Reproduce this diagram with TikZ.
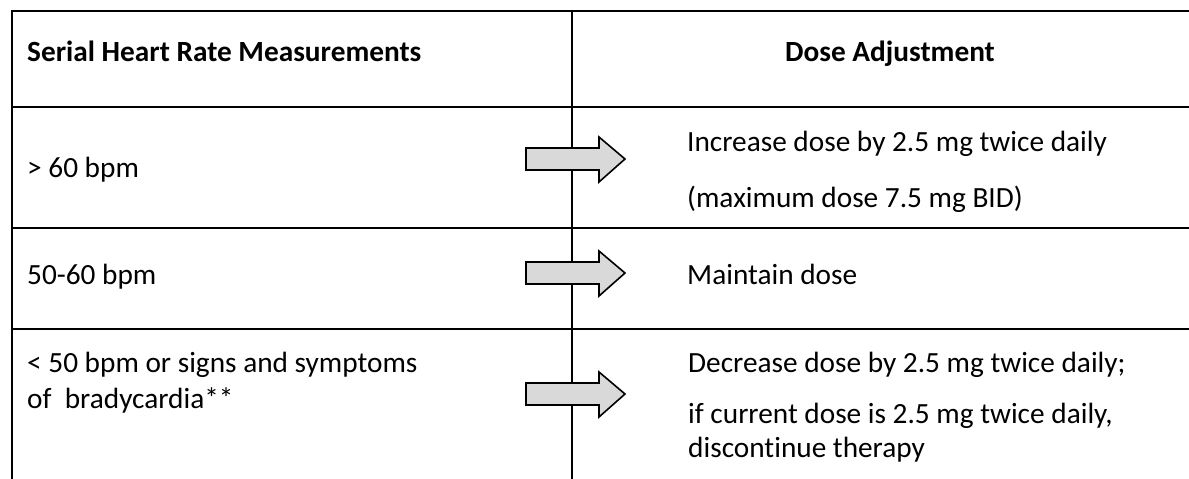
\documentclass[tikz,border=0pt]{standalone}
\usepackage{fontspec}
\setmainfont{Carlito}[Ligatures={NoCommon}]
\definecolor{arrowgray}{HTML}{D9D9D9}
\tikzset{
  grid/.style={line width=2.2pt, line cap=rect},
  txt/.style={anchor=base west, inner sep=0pt, font=\fontsize{29.3}{35}\selectfont},
  head/.style={txt, font=\fontsize{29.3}{35}\selectfont\bfseries},
  blockarrow/.pic={\draw[fill=arrowgray, line width=1.6pt, line join=miter]
     (0,-11) -- (73,-11) -- (73,-22) -- (99,0) -- (73,23) -- (73,11) -- (0,11) -- cycle;}
}
\begin{document}
\begin{tikzpicture}[x=1pt,y=-1pt]
\useasboundingbox (0,0) rectangle (1189,479);
% grid
\coordinate (tl) at (12,11);
\coordinate (tr) at (1192,11);
\coordinate (bl) at (12,482);
\coordinate (mt) at (572,11);
\coordinate (mb) at (572,482);
\draw[grid] (bl) -- (tl) -- (tr);
\draw[grid] (mt) -- (mb);
\draw[grid] (12,107) -- (1192,107);
\draw[grid] (12,228) -- (1192,228);
\draw[grid] (12,329) -- (1192,329);
% header
\node[head] (h1) at (27,61) {Serial Heart Rate Measurements};
\node[head] (h2) at (785,61) {Dose Adjustment};
% row 1
\node[txt] (l1) at (27,177) {> 60 bpm};
\node[txt] (r1a) at (687,151) {Increase dose by 2.5 mg twice daily};
\node[txt] (r1b) at (687,207) {(maximum dose 7.5 mg BID)};
\pic at (526,159) {blockarrow};
% row 2
\node[txt] (l2) at (27,284) {50-60 bpm};
\node[txt] (r2) at (687,284) {Maintain dose};
\pic at (526,273) {blockarrow};
% row 3
\node[txt] (l3a) at (27,372) {< 50 bpm or signs and symptoms};
\node[txt] (l3b) at (27,408) {of\ \ bradycardia**};
\node[txt] (r3a) at (688,372) {Decrease dose by 2.5 mg twice daily;};
\node[txt] (r3b) at (688,423) {if current dose is 2.5 mg twice daily,};
\node[txt] (r3c) at (688,457) {discontinue therapy};
\pic at (526,394) {blockarrow};
\end{tikzpicture}
\end{document}
